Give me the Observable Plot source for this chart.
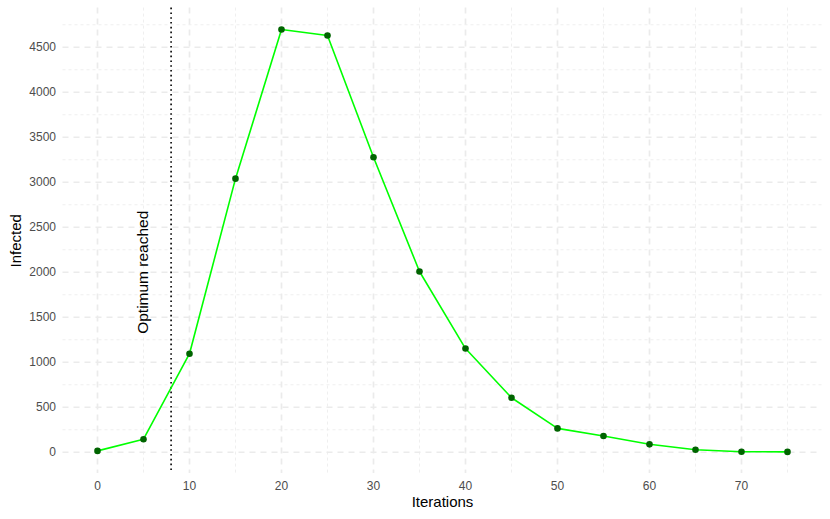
<!DOCTYPE html>
<html>
<head>
<meta charset="utf-8">
<script src="https://cdn.jsdelivr.net/npm/d3@7"></script>
<script src="https://cdn.jsdelivr.net/npm/@observablehq/plot@0.6"></script>
<style>
  html, body { margin: 0; padding: 0; background: #fff; }
  #chart svg { display: block; font-family: "Liberation Sans", Arial, sans-serif; }
</style>
</head>
<body>
<div id="chart"></div>
<script>
// Data
const iterations = [0, 5, 10, 15, 20, 25, 30, 35, 40, 45, 50, 55, 60, 65, 70, 75];
const infected   = [15, 145, 1095, 3040, 4697, 4630, 3278, 2008, 1152, 606, 265, 180, 88, 28, 6, 4];
const optimumX = 8;
const annotation = [{x: 5, y: 2000, label: "Optimum reached"}];
const xTicks = [0, 10, 20, 30, 40, 50, 60, 70];
const xMinor = [5, 15, 25, 35, 45, 55, 65, 75];
const yTicks = [0, 500, 1000, 1500, 2000, 2500, 3000, 3500, 4000, 4500];
const yMinor = [250, 750, 1250, 1750, 2250, 2750, 3250, 3750, 4250, 4750];

const data = iterations.map((x, i) => ({x, y: infected[i]}));

const gridCol = "#EBEBEB";
const chart = Plot.plot({
  width: 830,
  height: 519,
  marginLeft: 62.5,
  marginRight: 8.5,
  marginTop: 7.6,
  marginBottom: 46.1,
  style: {fontFamily: '"Liberation Sans", Arial, sans-serif', background: "#fff"},
  x: {domain: [-3.75, 78.75]},
  y: {domain: [-235, 4935]},
  marks: [
    Plot.ruleX(xMinor, {stroke: gridCol, strokeWidth: 0.8, strokeDasharray: "3,3"}),
    Plot.ruleY(yMinor, {stroke: gridCol, strokeWidth: 0.8, strokeDasharray: "3,3"}),
    Plot.ruleX(xTicks, {stroke: gridCol, strokeWidth: 1.7, strokeDasharray: "6,5"}),
    Plot.ruleY(yTicks, {stroke: gridCol, strokeWidth: 1.7, strokeDasharray: "6,5"}),
    Plot.axisX(xTicks, {tickSize: 0, tickPadding: 8, fontSize: 12, color: "#4D4D4D", label: null, tickFormat: d => String(d)}),
    Plot.axisY(yTicks, {tickSize: 0, tickPadding: 7, fontSize: 12, color: "#4D4D4D", label: null, tickFormat: d => String(d)}),
    Plot.ruleX([optimumX], {stroke: "#000", strokeWidth: 1.6, strokeDasharray: "1.6,3.2"}),
    Plot.line(data, {x: "x", y: "y", stroke: "#00FF00", strokeWidth: 1.6}),
    Plot.dot(data, {x: "x", y: "y", fill: "#006400", r: 3.3, stroke: null}),
    Plot.text(annotation, {x: "x", y: "y", text: "label", rotate: -90, fontSize: 15.5, fill: "#000"}),
    Plot.text(["Iterations"], {frameAnchor: "bottom", dy: 29, lineAnchor: "middle", textAnchor: "middle", fontSize: 15, fill: "#000"}),
    Plot.text(["Infected"], {frameAnchor: "left", dx: -47, rotate: -90, textAnchor: "middle", lineAnchor: "middle", fontSize: 15, fill: "#000"})
  ]
});
document.getElementById("chart").appendChild(chart);
</script>
</body>
</html>
